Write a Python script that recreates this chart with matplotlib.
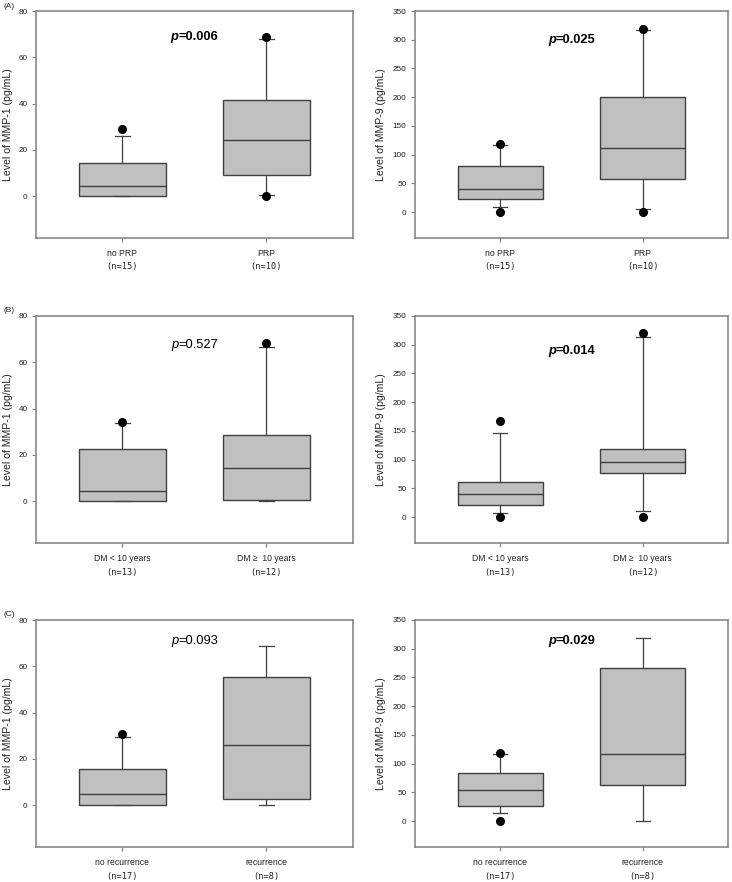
import matplotlib.pyplot as plt

plt.rcParams["font.family"] = ["Liberation Sans", "DejaVu Sans"]

# three comparisons (rows) x two markers (columns)
row_tags = ["(A)", "(B)", "(C)"]
groups = [["no PRP", "PRP"],
          ["DM < 10 years", "DM \u2265  10 years"],
          ["no recurrence", "recurrence"]]
n_labels = [["(n=15)", "(n=10)"], ["(n=13)", "(n=12)"], ["(n=17)", "(n=8)"]]
y_labels = ["Level of MMP-1 (pg/mL)", "Level of MMP-9 (pg/mL)"]
y_ticks = [[0, 20, 40, 60, 80], [0, 50, 100, 150, 200, 250, 300, 350]]
y_lims = [(-18, 80), (-45, 350)]

p_values = [["0.006", "0.025"], ["0.527", "0.014"], ["0.093", "0.029"]]
p_bold = [[True, True], [False, True], [False, True]]
p_y = [[67.5, 294], [66, 284], [69.5, 308]]

# box statistics, panel order: A-left, A-right, B-left, B-right, C-left, C-right
med = [[4.5, 24.4], [40.0, 111.3], [4.6, 14.2], [40.7, 96.5], [4.7, 25.9], [55.0, 117.6]]
q1 = [[0, 9.3], [22.6, 56.8], [0, 0.7], [20.3, 76.2], [0, 2.6], [26.1, 63.7]]
q3 = [[14.4, 41.7], [81.1, 199.9], [22.4, 28.8], [61.6, 119.2], [15.8, 55.6], [82.9, 266.6]]
whis_lo = [[0, 0.6], [8.7, 5.2], [0, 0], [6.4, 9.9], [0, 0], [13.3, 0]]
whis_hi = [[25.9, 68.1], [116.5, 317.5], [34.0, 66.6], [145.9, 313.9], [29.3, 68.7], [117.1, 319.3]]
fliers = [[[29.0], [68.8, 0]], [[118.8, 0], [319.3, 0]],
          [[34.4], [68.5]], [[166.9, 0], [319.8, 0]],
          [[30.9], []], [[118.8, 0], []]]

W, H = 732, 882
fig = plt.figure(figsize=(W / 100, H / 100), dpi=100)

col_x = [(36, 316.7), (415, 313)]
label_right = [13, 386]   # pixel x of the y-label's right edge
row_top = [11, 316, 620]
ax_h = 227

FRAME = "#808080"
EDGE = "#404040"
TXT = "#222222"

for r in range(3):
    fig.text(3 / W, 1 - (row_top[r] - 5) / H, row_tags[r], fontsize=6,
             ha="left", va="center", color=TXT)
    for c in range(2):
        k = r * 2 + c
        x0, w = col_x[c]
        ax = fig.add_axes([x0 / W, 1 - (row_top[r] + ax_h) / H, w / W, ax_h / H])

        stats = []
        for b in range(2):
            stats.append(dict(med=med[k][b], q1=q1[k][b], q3=q3[k][b],
                              whislo=whis_lo[k][b], whishi=whis_hi[k][b],
                              fliers=fliers[k][b]))
        ax.bxp(stats, positions=[1, 2], widths=0.6, capwidths=0.1,
               patch_artist=True, manage_ticks=False,
               boxprops=dict(facecolor="#c0c0c0", edgecolor=EDGE, linewidth=1.0),
               medianprops=dict(color=EDGE, linewidth=1.0),
               whiskerprops=dict(color=EDGE, linewidth=0.9),
               capprops=dict(color=EDGE, linewidth=0.9),
               flierprops=dict(marker="o", markerfacecolor="black",
                               markeredgecolor="black", markersize=5.5))

        ax.set_xlim(0.4, 2.6)
        ax.set_ylim(*y_lims[c])
        ax.set_yticks(y_ticks[c])
        ax.tick_params(axis="y", labelsize=5.9, length=3, pad=3,
                       color=FRAME, labelcolor=TXT)
        ax.set_xticks([1, 2])
        ax.set_xticklabels(groups[r])
        ax.tick_params(axis="x", labelsize=6.2, length=3, pad=5,
                       color=FRAME, labelcolor=TXT)
        for s in ax.spines.values():
            s.set_color(FRAME)
            s.set_linewidth(1.1)

        for b in range(2):
            ax.annotate(n_labels[r][b], xy=(b + 1, 0),
                        xycoords=("data", "axes fraction"),
                        xytext=(0, -29 * 0.72), textcoords="offset points",
                        ha="center", va="center", fontsize=6.2,
                        family="DejaVu Sans Mono", color=TXT)

        ax.set_ylabel(y_labels[c], fontsize=7.6, color=TXT)
        ax.yaxis.set_label_coords((label_right[c] - x0) / w, 0.5)

        wt = "bold" if p_bold[r][c] else "normal"
        ax.text(1.39, p_y[r][c], "p", ha="right", va="baseline",
                fontsize=9.3, style="italic", fontweight=wt)
        ax.text(1.39, p_y[r][c], "=" + p_values[r][c], ha="left", va="baseline",
                fontsize=9.3, fontweight=wt)

fig.savefig("out.png", dpi=100)
